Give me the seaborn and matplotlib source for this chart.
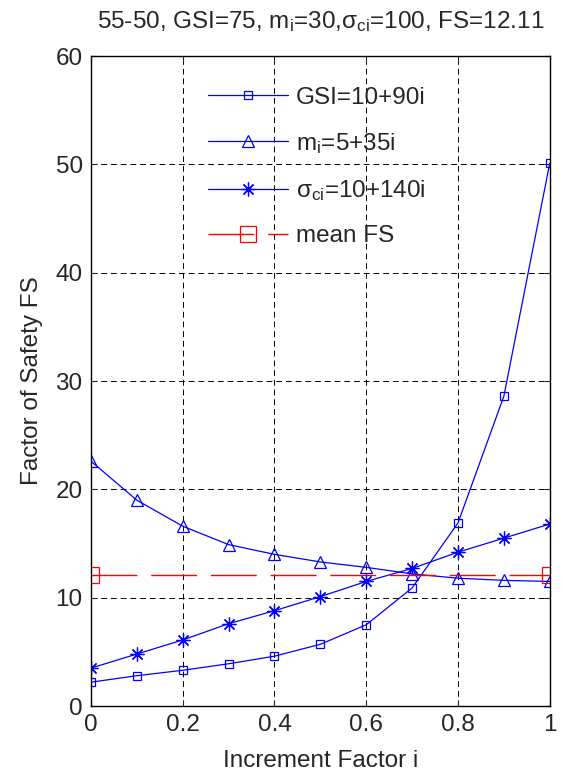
import matplotlib
matplotlib.use("Agg")
import matplotlib.pyplot as plt
import seaborn as sns
import pandas as pd
import numpy as np

increment = [0.0, 0.1, 0.2, 0.3, 0.4, 0.5, 0.6, 0.7, 0.8, 0.9, 1.0]
fs_gsi = [2.2, 2.8, 3.3, 3.9, 4.6, 5.7, 7.5, 10.9, 16.9, 28.6, 50.1]
fs_mi = [22.6, 19.0, 16.6, 14.9, 14.0, 13.3, 12.8, 12.2, 11.8, 11.6, 11.5]
fs_sci = [3.5, 4.8, 6.1, 7.6, 8.8, 10.1, 11.5, 12.7, 14.2, 15.5, 16.8]
mean_fs = 12.11
mean_x = [0.0, 1.0]
x_ticks = [0, 0.2, 0.4, 0.6, 0.8, 1]
x_ticklabels = ["0", "0.2", "0.4", "0.6", "0.8", "1"]
y_ticks = [0, 10, 20, 30, 40, 50, 60]

sns.set_style("ticks")
plt.rcParams["font.family"] = ["Liberation Sans", "DejaVu Sans"]
plt.rcParams["mathtext.fontset"] = "custom"
plt.rcParams["mathtext.rm"] = "Liberation Sans"
plt.rcParams["mathtext.it"] = "Liberation Sans:italic"
plt.rcParams["mathtext.sf"] = "Liberation Sans"

FS = 17.5

fig = plt.figure(figsize=(5.65, 7.78), dpi=100)
ax = fig.add_axes([0.161, 0.0925, 0.812, 0.8355])

df = pd.DataFrame({"i": increment, "gsi": fs_gsi, "mi": fs_mi, "sci": fs_sci})
blue = "#0000ff"
red = "#ff0000"

sns.lineplot(data=df, x="i", y="gsi", ax=ax, color=blue, lw=0.9, marker="s",
             markersize=5.3, markerfacecolor="none", markeredgecolor=blue,
             markeredgewidth=0.9, label="GSI=10+90i")
sns.lineplot(data=df, x="i", y="mi", ax=ax, color=blue, lw=0.9, marker="^",
             markersize=8, markerfacecolor="none", markeredgecolor=blue,
             markeredgewidth=0.9, label=r"m$_\mathregular{i}$=5+35i")
sns.lineplot(data=df, x="i", y="sci", ax=ax, color=blue, lw=0.9, marker=(8, 2, 0),
             markersize=10, markerfacecolor="none", markeredgecolor=blue,
             markeredgewidth=0.9, label=r"$\mathregular{\sigma_{ci}}$=10+140i")
dm = pd.DataFrame({"i": mean_x, "fs": [mean_fs] * len(mean_x)})
sns.lineplot(data=dm, x="i", y="fs", ax=ax, color=red, lw=1.0, marker="s",
             markersize=12, markerfacecolor="none", markeredgecolor=red,
             markeredgewidth=0.9, dashes=False, label="mean FS")
ax.lines[-1].set_dashes((33, 10))

ax.set_xlim(0, 1)
ax.set_ylim(0, 60)
ax.set_xticks(x_ticks)
ax.set_xticklabels(x_ticklabels)
ax.set_yticks(y_ticks)
ax.grid(True, color="black", linestyle=(0, (6, 4)), linewidth=0.7)
ax.tick_params(direction="in", top=True, right=True, labelsize=FS, length=4,
               width=0.8, pad=6)
for s in ax.spines.values():
    s.set_linewidth(1.0)
    s.set_color("black")
    s.set_visible(True)
ax.set_xlabel("Increment Factor i", fontsize=FS, labelpad=10)
ax.set_ylabel("Factor of Safety FS", fontsize=FS, labelpad=9)
ax.set_title(r"55-50, GSI=75, m$_\mathregular{i}$=30,$\mathregular{\sigma_{ci}}$=100, FS=12.11",
             fontsize=FS, pad=20)

leg = ax.legend(loc="upper left", bbox_to_anchor=(0.255, 0.953), frameon=False,
                fontsize=FS, handlelength=3.3, labelspacing=0.92, handletextpad=0.33,
                borderpad=0, borderaxespad=0)
for h in leg.get_lines():
    if h.get_color() == red:
        h.set_dashes((33, 10))

fig.savefig("out.png", dpi=100)
